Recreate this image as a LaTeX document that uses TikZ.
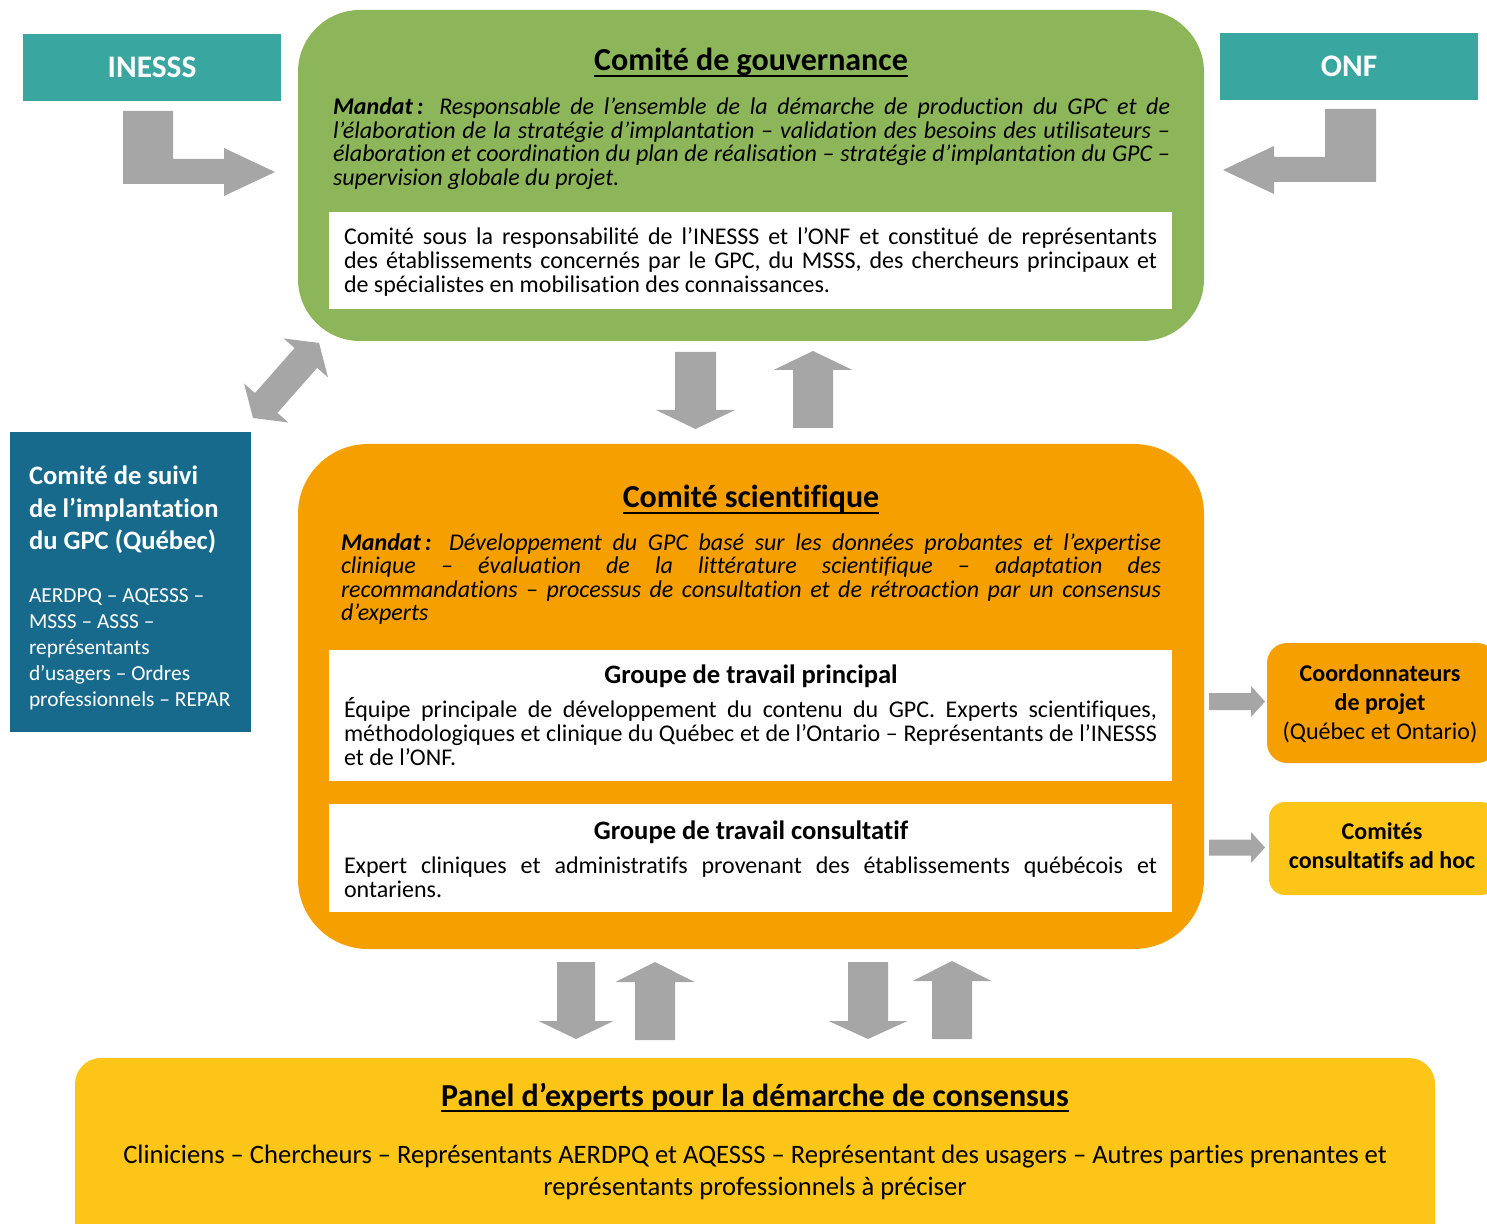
\documentclass[tikz,border=0pt]{standalone}
\usepackage{fontspec}
\setmainfont{Carlito}[Ligatures=NoCommon]
\definecolor{tealc}{HTML}{39A6A0}
\definecolor{greenc}{HTML}{8DB55A}
\definecolor{orangec}{HTML}{F5A000}
\definecolor{yellowc}{HTML}{FDC518}
\definecolor{bluec}{HTML}{176A8C}
\definecolor{arrowc}{HTML}{A6A6A6}
\setlength{\lineskiplimit}{-100pt}
\newcommand\fs[2]{\fontsize{#1}{#2}\selectfont}
\newcommand\jline[1]{\hbox to \linewidth{#1}}
% single block arrow: coord, angle, length, shaft half, head half, head length
\newcommand\barrow[6]{\fill[arrowc, shift={(#1)}, rotate=#2] (0,-#4) -- ({#3-#6},-#4) -- ({#3-#6},-#5) -- (#3,0) -- ({#3-#6},#5) -- ({#3-#6},#4) -- (0,#4) -- cycle;}
\newcommand\dbarrow[6]{\fill[arrowc, shift={(#1)}, rotate=#2] (0,0) -- (#6,-#5) -- (#6,-#4) -- ({#3-#6},-#4) -- ({#3-#6},-#5) -- (#3,0) -- ({#3-#6},#5) -- ({#3-#6},#4) -- (#6,#4) -- (#6,#5) -- cycle;}
\tikzset{
  box/.style={inner sep=0pt, outer sep=0pt, draw=none, minimum width=#1},
  txt/.style={inner sep=0pt, outer sep=0pt},
  uline/.style={line width=0.9pt}
}
\begin{document}
\begin{tikzpicture}[x=0.5pt,y=-0.5pt]
\useasboundingbox (0,0) rectangle (1487,1224);
% ---------- boxes
\node[box=129pt, fill=tealc, minimum height=33.5pt] (inesss) at (152,67.5) {};
\node[box=129pt, fill=tealc, minimum height=33.5pt] (onf) at (1349,66.5) {};
\node[box=453pt, fill=greenc, minimum height=165.5pt, rounded corners=31pt] (gouv) at (751,175.5) {};
\node[box=421.5pt, fill=white, minimum height=48.5pt] (gouvin) at (750.5,260.5) {};
\node[box=453pt, fill=orangec, minimum height=252.5pt, rounded corners=35pt] (sci) at (751,696.5) {};
\node[box=421.5pt, fill=white, minimum height=65.5pt] (gtp) at (750.5,715.5) {};
\node[box=421.5pt, fill=white, minimum height=54pt] (gtc) at (750.5,858) {};
\node[box=120.5pt, fill=bluec, minimum height=150pt] (suivi) at (130.5,582) {};
\node[box=115pt, fill=orangec, minimum height=60pt, rounded corners=10pt] (coord) at (1382,703) {};
\node[box=114pt, fill=yellowc, minimum height=46.5pt, rounded corners=8pt] (comites) at (1383,848.5) {};
\node[box=680pt, fill=yellowc, minimum height=100pt, rounded corners=13pt] (panel) at (755,1158) {};
% ---------- arrows
\coordinate (ia) at (123,111);
\fill[arrowc, shift={(ia)}] (0,0) -- (50,0) -- (50,48) -- (101,48) -- (101,37) -- (152,61) -- (101,85) -- (101,73) -- (0,73) -- cycle;
\coordinate (oa) at (1376,109);
\fill[arrowc, shift={(oa)}] (0,0) -- (0,73) -- (-102,73) -- (-102,85) -- (-153,61) -- (-102,37) -- (-102,48) -- (-51,48) -- (-51,0) -- cycle;
\coordinate (da) at (253,418);
\dbarrow{da}{48.65}{100}{15}{29.5}{20}
\coordinate (d1) at (695.5,352);
\barrow{d1}{-90}{77}{20.5}{39.5}{19}
\coordinate (u1) at (813,428);
\barrow{u1}{90}{77}{20}{39.5}{19}
\coordinate (d2) at (576,962);
\barrow{d2}{-90}{77}{19}{37.5}{18}
\coordinate (u2) at (655,1040);
\barrow{u2}{90}{78}{20}{39.5}{20}
\coordinate (d3) at (868,962);
\barrow{d3}{-90}{77}{20}{39.5}{18}
\coordinate (u3) at (952,1039);
\barrow{u3}{90}{78}{20}{39.5}{20}
\coordinate (r1) at (1209,701.5);
\barrow{r1}{0}{56}{8.5}{15.5}{14}
\coordinate (r2) at (1209,847.5);
\barrow{r2}{0}{56}{8}{15.5}{14}
% ---------- texts
\node[txt, anchor=base, text=white] (tin) at (152,78) {\fs{15.7}{19}\bfseries INESSS};
\node[txt, anchor=base, text=white] (ton) at (1349,77) {\fs{15.7}{19}\bfseries ONF};

\node[txt, anchor=base] (tg) at (751,71) {\fs{16}{19}\bfseries Comité de gouvernance};
\draw[uline] ([yshift=-2.4pt]tg.base west) -- ([yshift=-2.4pt]tg.base east);
\node[txt, anchor=base west] (gm) at (333,114.8) {\parbox[t]{418.5pt}{\fs{12}{11.8}\itshape
\jline{\textbf{Mandat\,:} Responsable de l’ensemble de la démarche de production du GPC et de}
\jline{l’élaboration de la stratégie d’implantation – validation des besoins des utilisateurs –}
\jline{élaboration et coordination du plan de réalisation – stratégie d’implantation du GPC –}
\hbox{supervision globale du projet.}}};
\node[txt, anchor=base west] (gi) at (344,245) {\parbox[t]{406.5pt}{\fs{12}{11.9}
\jline{Comité sous la responsabilité de l’INESSS et l’ONF et constitué de représentants}
\jline{des établissements concernés par le GPC, du MSSS, des chercheurs principaux et}
\hbox{de spécialistes en mobilisation des connaissances.}}};

\node[txt, anchor=base] (ts) at (751,508) {\fs{16}{19}\bfseries Comité scientifique};
\draw[uline] ([yshift=-2.4pt]ts.base west) -- ([yshift=-2.4pt]ts.base east);
\node[txt, anchor=base west] (sm) at (341,550) {\parbox[t]{410pt}{\fs{12}{11.8}\itshape
\jline{\textbf{Mandat\,:} Développement du GPC basé sur les données probantes et l’expertise}
\jline{clinique – évaluation de la littérature scientifique – adaptation des}
\jline{recommandations – processus de consultation et de rétroaction par un consensus}
\hbox{d’experts}}};

\node[txt, anchor=base] (tp) at (751,683) {\fs{13.3}{16}\bfseries Groupe de travail principal};
\node[txt, anchor=base west] (pp) at (344,717) {\parbox[t]{406.5pt}{\fs{12}{12}
\jline{Équipe principale de développement du contenu du GPC. Experts scientifiques,}
\jline{méthodologiques et clinique du Québec et de l’Ontario – Représentants de l’INESSS}
\hbox{et de l’ONF.}}};

\node[txt, anchor=base] (tc) at (751,839) {\fs{13.3}{16}\bfseries Groupe de travail consultatif};
\node[txt, anchor=base west] (pc) at (344,873) {\parbox[t]{406.5pt}{\fs{12}{12}
\jline{Expert cliniques et administratifs provenant des établissements québécois et}
\hbox{ontariens.}}};

\node[txt, anchor=base west, text=white] (st) at (29,485) {\parbox[t]{115pt}{\fs{13.3}{16.2}\bfseries
\hbox{Comité de suivi}\hbox{de l’implantation}\hbox{du GPC (Québec)}}};
\node[txt, anchor=base west, text=white] (sb) at (29,602) {\parbox[t]{115pt}{\fs{10.7}{13}
\hbox{AERDPQ – AQESSS –}\hbox{MSSS – ASSS –}\hbox{représentants}\hbox{d’usagers – Ordres}\hbox{professionnels – REPAR}}};

\node[txt, anchor=base] (ct) at (1380,681) {\parbox[t]{115pt}{\centering\fs{12}{14.6}
\textbf{Coordonnateurs}\\ \textbf{de projet}\\ (Québec et Ontario)}};
\node[txt, anchor=base] (cmt) at (1382,839) {\parbox[t]{115pt}{\centering\fs{12}{14.6}\bfseries
Comités\\ consultatifs ad hoc}};

\node[txt, anchor=base] (pt) at (755,1106) {\fs{16}{19}\bfseries Panel d’experts pour la démarche de consensus};
\draw[uline] ([yshift=-2.4pt]pt.base west) -- ([yshift=-2.4pt]pt.base east);
\node[txt, anchor=base] (pb) at (755,1163) {\parbox[t]{670pt}{\centering\fs{13.3}{16}
Cliniciens – Chercheurs – Représentants AERDPQ et AQESSS – Représentant des usagers – Autres parties prenantes et\\
représentants professionnels à préciser}};
\end{tikzpicture}
\end{document}
